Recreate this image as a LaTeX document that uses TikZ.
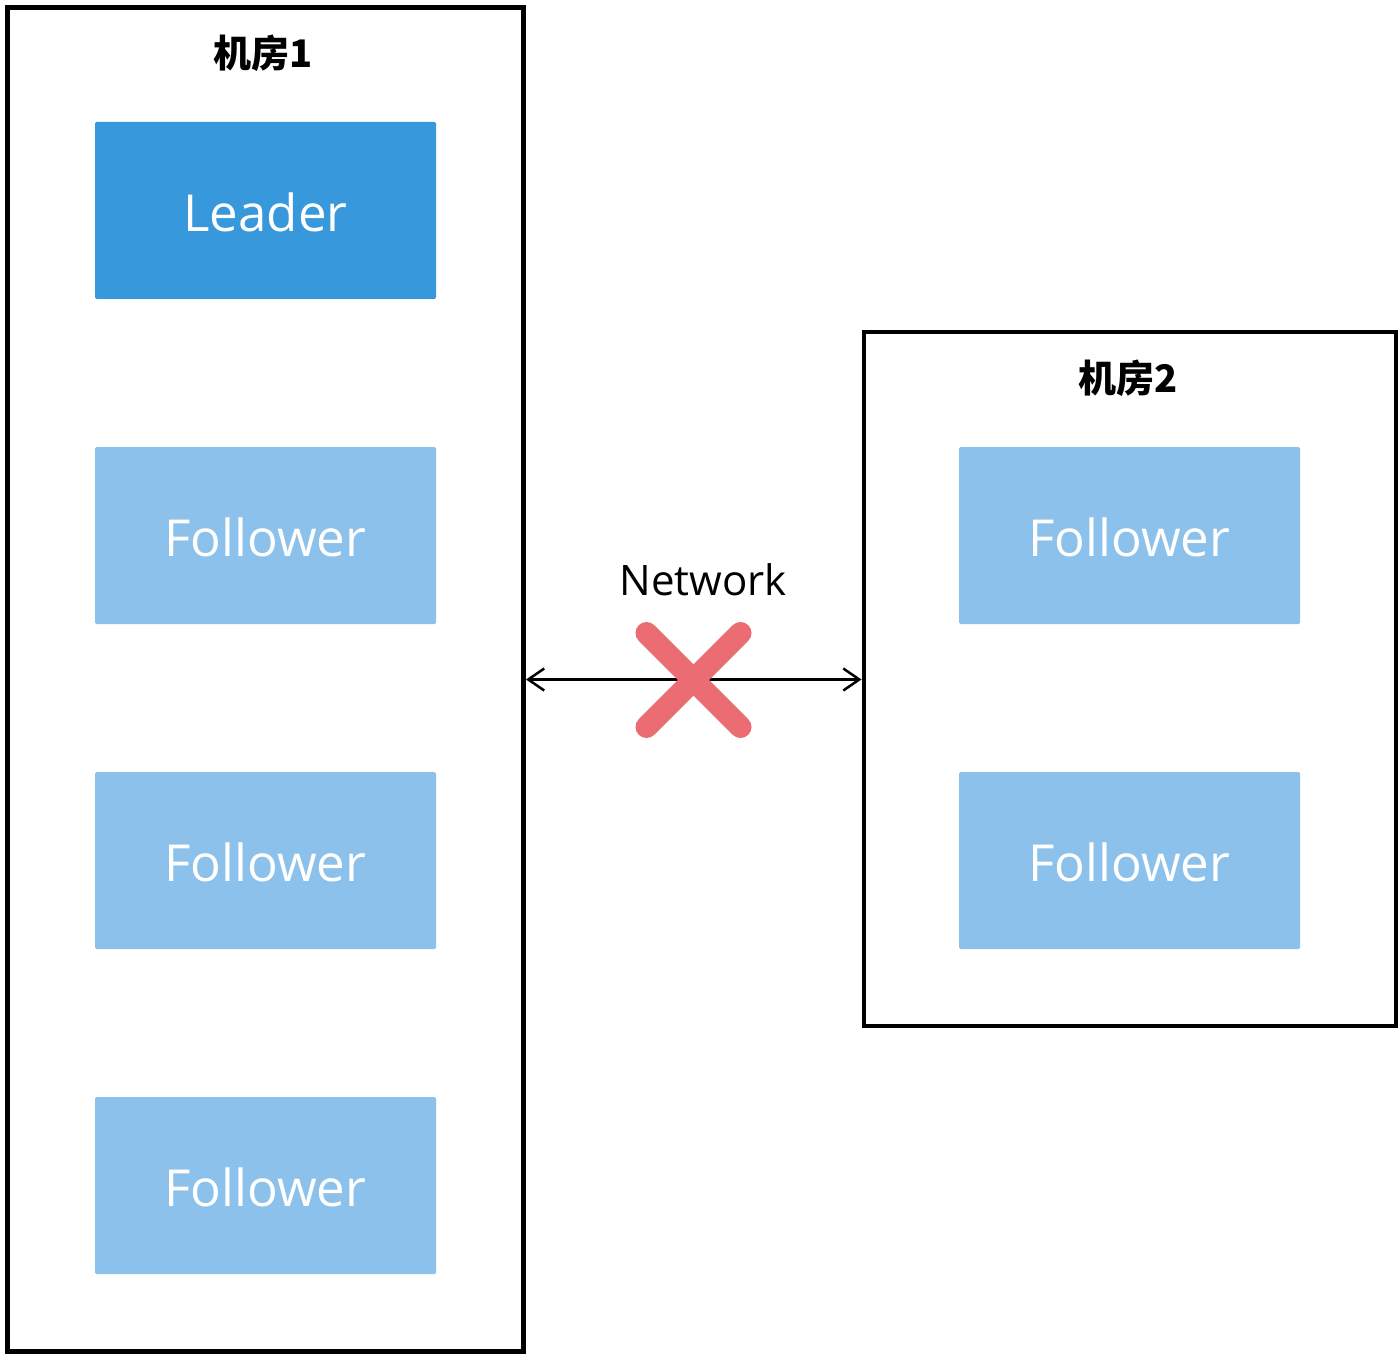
\documentclass[tikz,border=0pt]{standalone}
\usepackage{fontspec}
\setmainfont{Open Sans}
\newfontfamily\cjk{Noto Sans CJK SC}
\usetikzlibrary{arrows.meta}
\definecolor{leaderblue}{HTML}{3798DB}
\definecolor{followblue}{HTML}{8BC1EA}
\definecolor{xred}{HTML}{EC6C73}
\begin{document}
\begin{tikzpicture}[x=1pt,y=-1pt,
  room/.style={draw=black,line width=4.5pt,fill=white,inner sep=0pt,outer sep=0pt,rectangle},
  srv/.style={rectangle,inner sep=0pt,outer sep=0pt,minimum width=341pt,minimum height=177pt,
    text height=42pt,text depth=0pt,
    rounded corners=1.5pt,text=white,font=\fontsize{51}{60}\selectfont},
  lead/.style={srv,fill=leaderblue},
  foll/.style={srv,fill=followblue},
  ttl/.style={font=\cjk\bfseries\fontsize{38}{44}\selectfont,inner sep=0pt}]
\useasboundingbox (0,0) rectangle (1400,1356);
\node[room,minimum width=516pt,minimum height=1344pt] (room1) at (265.5,679.5) {};
\node[room,minimum width=532pt,minimum height=694pt] (room2) at (1130,679) {};
\node[ttl] (t1) at (263,53) {机房1};
\node[ttl] (t2) at (1128,378) {机房2};
\node[lead] (leader) at (265.5,210.5) {Leader};
\node[foll] (f1) at (265.5,535.5) {Follower};
\node[foll] (f2) at (265.5,860.5) {Follower};
\node[foll] (f3) at (265.5,1185.5) {Follower};
\node[foll] (f4) at (1129.5,535.5) {Follower};
\node[foll] (f5) at (1129.5,860.5) {Follower};
\node[font=\fontsize{42}{50}\selectfont,inner sep=0pt] (net) at (703,580) {Network};
\coordinate (a1) at ([xshift=2.5pt]room1.east);
\coordinate (a2) at ([xshift=-2.5pt]room2.west |- room1.east);
\draw[line width=2.5pt,{Straight Barb[length=16pt,width=22pt]}-{Straight Barb[length=16pt,width=22pt]}] (a1) -- (a2);
\coordinate (xc) at (693.5,680);
\draw[xred,line width=22pt,line cap=round] ([shift={(-47,-47)}]xc) -- ([shift={(47,47)}]xc)
  ([shift={(47,-47)}]xc) -- ([shift={(-47,47)}]xc);
\end{tikzpicture}
\end{document}
